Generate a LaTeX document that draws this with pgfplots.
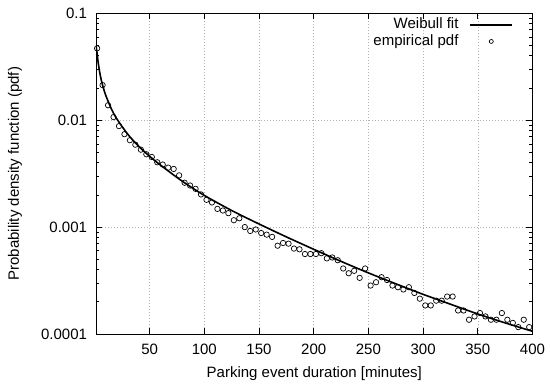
\documentclass[border=0pt]{standalone}
\usepackage{fontspec}
\setmainfont{Liberation Sans}
\usepackage{pgfplots}
\pgfplotsset{compat=1.18}
\pgfplotsset{
  lineleg/.style={legend image code/.code={\draw[##1] (0pt,0pt) -- (42pt,0pt);}},
  markleg/.style={legend image code/.code={\draw[mark repeat=1,mark phase=1,##1,mark size=2pt] plot coordinates {(21pt,0pt)};}},
}
\begin{document}
\begin{tikzpicture}
\useasboundingbox (0,0) rectangle (550pt,388pt);
\begin{axis}[
  at={(96pt,54pt)}, anchor=south west,
  width=436.5pt, height=320.7pt, scale only axis,
  ymode=log, xmin=1, xmax=400, ymin=1e-4, ymax=0.1,
  xtick={50,100,...,400},
  ytick={0.0001,0.001,0.01,0.1},
  yticklabels={0.0001,0.001,0.01,0.1},
  minor xtick={},
  /pgf/number format/assume math mode=true,
  ticklabel style={font=\fontsize{15}{18}\selectfont},
  yticklabel style={xshift=-5.5pt},
  xticklabel style={yshift=-6.5pt},
  label style={font=\fontsize{15}{18}\selectfont},
  xlabel={Parking event duration [minutes]},
  ylabel={Probability density function (pdf)},
  xlabel style={at={(axis description cs:0.5,-0.0998)}, anchor=north, inner sep=0pt},
  ylabel style={at={(axis description cs:-0.1856,0.5)}, anchor=center, inner sep=0pt},
  grid=major,
  major grid style={gray!60, line width=0.5pt, dash pattern=on 1pt off 2pt},
  axis line style={line width=0.8pt},
  tick style={black, line width=0.8pt},
  major tick length=6pt, minor tick length=3pt,
  tick align=inside, tick pos=both,
  legend plot pos=right, legend cell align=right,
  legend style={draw=none, fill=none, at={(axis description cs:0.956,0.99)}, anchor=north east,
    inner sep=0pt, column sep=10pt, row sep=0pt, font=\fontsize{15}{18}\selectfont,
    nodes={inner sep=1pt, text height=11pt, text depth=3.5pt}},
]
\addplot[black, line width=1.6pt, smooth, lineleg]
coordinates {
(1,0.049) (2,0.0425) (3,0.0345) (5,0.026) (7,0.0213) (10,0.017) (15,0.0128)
(20,0.0103) (30,0.0074) (40,0.0057) (50,0.0046) (60,0.0038) (80,0.00268)
(100,0.00198) (125,0.00143) (150,0.00107) (175,0.00081) (200,0.00062)
(225,0.000478) (250,0.000373) (275,0.000295) (300,0.000235) (325,0.00019)
(350,0.000154) (375,0.000127) (400,0.000106)
};
\addlegendentry{Weibull fit}
\addplot[only marks, mark=o, mark size=2.7pt, black, line width=0.7pt, markleg]
coordinates {
(2,0.047) (7,0.0213) (12,0.0138) (17,0.0107) (22,0.0088) (27,0.0074) (32,0.0065)
(37,0.0059) (42,0.0053) (47,0.0048) (52,0.00453) (57,0.00404) (62,0.00385)
(67,0.0036) (72,0.0035) (77,0.00305) (82,0.0026) (87,0.00245) (92,0.00228)
(97,0.00202) (102,0.0018) (107,0.0017) (112,0.00148) (117,0.00143) (122,0.00135)
(127,0.00116) (132,0.00121) (137,0.001) (142,0.00092) (147,0.00095) (152,0.00088)
(157,0.00085) (162,0.00081) (167,0.00067) (172,0.00071) (177,0.0007) (182,0.00063)
(187,0.00062) (192,0.00056) (197,0.00056) (202,0.00056) (207,0.00057) (212,0.00051)
(217,0.00052) (222,0.00049) (227,0.00041) (232,0.00037) (237,0.00039) (242,0.000335)
(247,0.00041) (252,0.000284) (257,0.000305) (262,0.00034) (267,0.00032) (272,0.000284)
(277,0.000274) (282,0.000261) (287,0.000274) (292,0.000242) (297,0.000214)
(302,0.000185) (307,0.000185) (312,0.000205) (317,0.000205) (322,0.000224)
(327,0.000224) (332,0.000166) (337,0.000166) (342,0.000136) (347,0.000146)
(352,0.000157) (357,0.000146) (362,0.000136) (367,0.000136) (372,0.000157)
(377,0.000136) (382,0.000127) (387,0.000116) (392,0.000136) (397,0.000116)
};
\addlegendentry{empirical pdf}
\end{axis}
\end{tikzpicture}
\end{document}
